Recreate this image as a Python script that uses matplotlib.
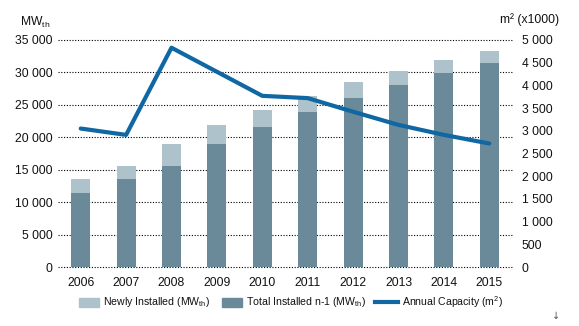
import matplotlib
matplotlib.use("Agg")
import matplotlib.pyplot as plt
from matplotlib.patches import Rectangle
from matplotlib.lines import Line2D

years = ["2006", "2007", "2008", "2009", "2010", "2011", "2012", "2013", "2014", "2015"]
total_prev = [11400, 13570, 15570, 18960, 21600, 23900, 26050, 28060, 29900, 31500]
newly = [2170, 2000, 3390, 2940, 2600, 2400, 2450, 2140, 2000, 1800]
annual_capacity = [3050, 2910, 4830, 4300, 3770, 3720, 3420, 3130, 2910, 2720]

left_ticks = [0, 5000, 10000, 15000, 20000, 25000, 30000, 35000]
right_ticks = [0, 500, 1000, 1500, 2000, 2500, 3000, 3500, 4000, 4500, 5000]

def fmt(v):
    return f"{v:,}".replace(",", " ")

plt.rcParams['font.family'] = ['Liberation Sans', 'DejaVu Sans']
plt.rcParams['mathtext.fontset'] = 'custom'
plt.rcParams['mathtext.rm'] = 'Liberation Sans'
plt.rcParams['text.color'] = '#111111'

c_light = "#adc2cb"
c_dark = "#6a8999"
c_line = "#0f67a3"
fs = 8.7

W, H = 579, 326
def fx(px):
    return px / W
def fy(py):
    return 1 - py / H

fig = plt.figure(figsize=(5.79, 3.26), dpi=100)
ax = fig.add_axes([fx(58), fy(267), (512-58)/W, (267-40)/H])
x = list(range(len(years)))
w = 0.42
ax.bar(x, total_prev, width=w, color=c_dark, zorder=3)
ax.bar(x, newly, width=w, bottom=total_prev, color=c_light, zorder=3)
ax.set_ylim(0, 35000)
ax.set_xlim(-0.5, 9.5)
ax.set_yticks(left_ticks)
ax.set_yticklabels([fmt(v) for v in left_ticks], fontsize=fs)
ax.set_xticks(x)
ax.set_xticklabels(years, fontsize=fs)
ax.tick_params(axis='both', length=0, labelcolor='#111111')
ax.tick_params(axis='y', pad=4)
ax.tick_params(axis='x', pad=7)
for s in ax.spines.values():
    s.set_visible(False)
for v in left_ticks:
    ax.axhline(v, color='black', linestyle=(0, (1, 1.5)), linewidth=0.8, zorder=1, clip_on=False)

ax2 = ax.twinx()
ax2.plot(x, annual_capacity, color=c_line, linewidth=3, zorder=4, solid_capstyle='round')
ax2.set_ylim(0, 5000)
ax2.set_yticks(right_ticks)
ax2.set_yticklabels([fmt(v) for v in right_ticks], fontsize=fs)
ax2.tick_params(axis='y', length=0, pad=7, labelcolor='#111111')
for s in ax2.spines.values():
    s.set_visible(False)

fig.text(fx(50), fy(22), "MW$_\\mathregular{th}$", ha='right', va='center', fontsize=fs)
fig.text(fx(500), fy(20), "m² (x1000)", ha='left', va='center', fontsize=fs)

# legend drawn manually
ly = 302
lfs = 7.6
fig.patches.append(Rectangle((fx(79), fy(306.5)), 20/W, 9/H, transform=fig.transFigure, color=c_light))
fig.text(fx(103), fy(ly), "Newly Installed (MW$_\\mathregular{th}$)", ha='left', va='center', fontsize=lfs)
fig.patches.append(Rectangle((fx(222), fy(306.5)), 20/W, 9/H, transform=fig.transFigure, color=c_dark))
fig.text(fx(246), fy(ly), "Total Installed n-1 (MW$_\\mathregular{th}$)", ha='left', va='center', fontsize=lfs)
fig.lines.append(Line2D([fx(375), fx(398)], [fy(ly), fy(ly)], transform=fig.transFigure, color=c_line, linewidth=3))
fig.text(fx(402), fy(ly), "Annual Capacity (m$^\\mathregular{2}$)", ha='left', va='center', fontsize=lfs)

fig.text(fx(556), fy(316), "↓", ha='center', va='center', fontsize=7, family=['DejaVu Sans'], color='#555555')

fig.savefig("out.png", dpi=100)
